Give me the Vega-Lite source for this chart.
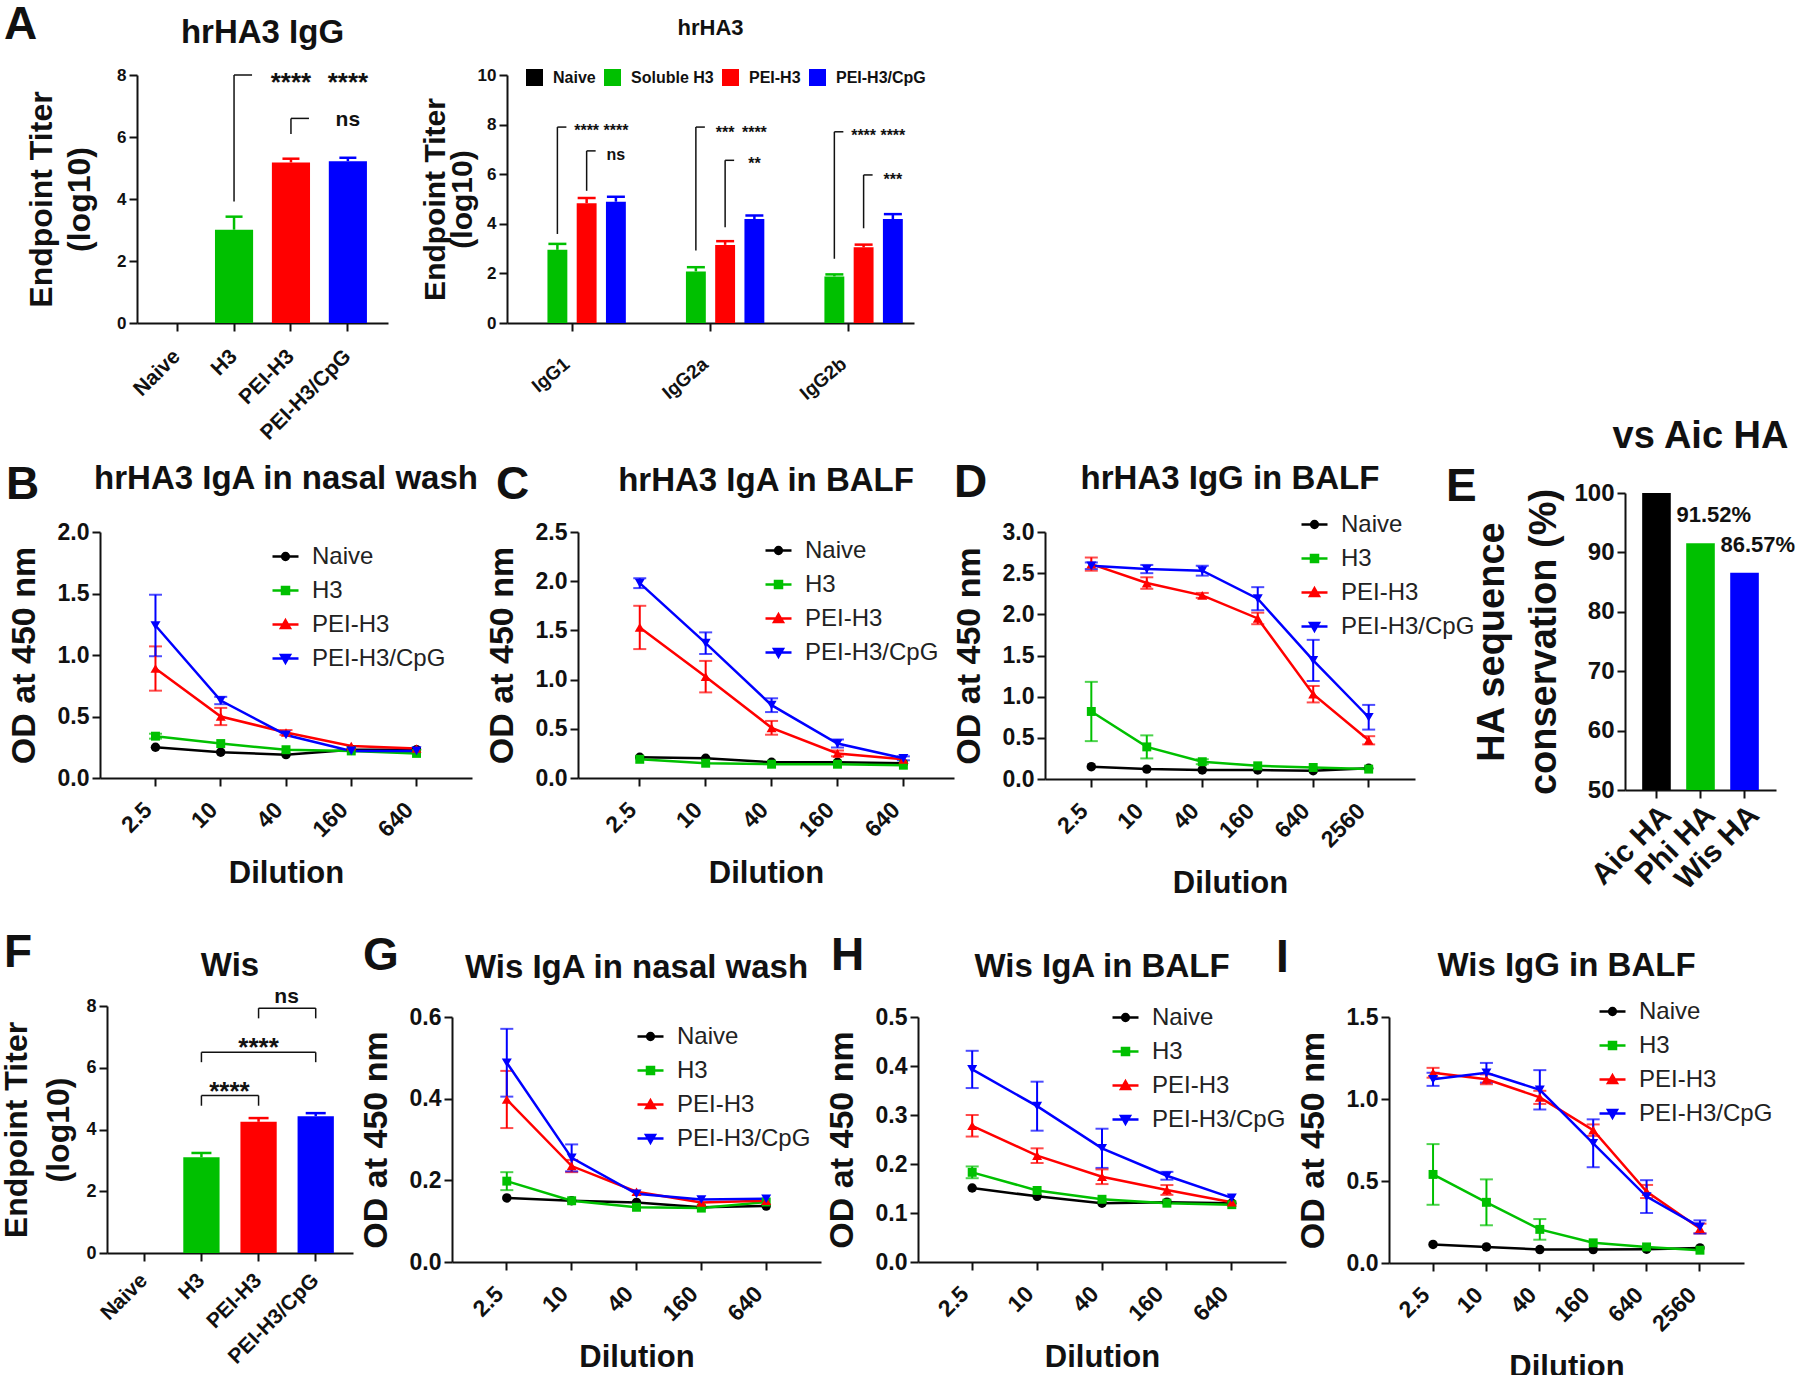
{
"$schema": "https://vega.github.io/schema/vega-lite/v6.json",
"background": "white",
"padding": {"left": 0, "top": 2, "right": 0, "bottom": 0},
"config": {
 "font": "Liberation Sans",
 "view": {"stroke": null},
 "axis": {"domainColor": "#111", "domainWidth": 2, "tickColor": "#111", "tickWidth": 2, "tickSize": 8, "labelColor": "#111", "labelFontWeight": "bold", "labelFont": "Liberation Sans", "titleColor": "#111", "titleFontWeight": "bold", "titleFont": "Liberation Sans", "grid": false, "labelPadding": 3, "labelOverlap": false},
 "title": {"font": "Liberation Sans", "fontWeight": "bold", "color": "#111", "anchor": "middle", "frame": "group", "baseline": "alphabetic", "fontSize": 33},
 "legend": {"labelFont": "Liberation Sans"}
},
"datasets": {
 "A": [{"group": "H3", "titer": 3.01, "top": 3.43}, {"group": "PEI-H3", "titer": 5.18, "top": 5.3}, {"group": "PEI-H3/CpG", "titer": 5.22, "top": 5.33}],
 "A_br": [{"group": "H3", "lo": 3.92, "hi": 8.0}, {"group": "PEI-H3", "lo": 6.1, "hi": 6.6}],
 "A_txt": [{"group": "PEI-H3", "y": 7.48, "t": "****"}, {"group": "PEI-H3/CpG", "y": 7.48, "t": "****"}, {"group": "PEI-H3/CpG", "y": 6.34, "t": "ns"}],
 "A2": [
  {"iso": "IgG1", "group": "Soluble H3", "titer": 2.95, "top": 3.19}, {"iso": "IgG1", "group": "PEI-H3", "titer": 4.83, "top": 5.04}, {"iso": "IgG1", "group": "PEI-H3/CpG", "titer": 4.89, "top": 5.09},
  {"iso": "IgG2a", "group": "Soluble H3", "titer": 2.08, "top": 2.25}, {"iso": "IgG2a", "group": "PEI-H3", "titer": 3.15, "top": 3.3}, {"iso": "IgG2a", "group": "PEI-H3/CpG", "titer": 4.19, "top": 4.33},
  {"iso": "IgG2b", "group": "Soluble H3", "titer": 1.88, "top": 1.96}, {"iso": "IgG2b", "group": "PEI-H3", "titer": 3.05, "top": 3.16}, {"iso": "IgG2b", "group": "PEI-H3/CpG", "titer": 4.19, "top": 4.39}],
 "A2_br": [
  {"iso": "IgG1", "group": "Soluble H3", "lo": 3.59, "hi": 7.9}, {"iso": "IgG1", "group": "PEI-H3", "lo": 5.33, "hi": 6.94},
  {"iso": "IgG2a", "group": "Soluble H3", "lo": 2.92, "hi": 7.9}, {"iso": "IgG2a", "group": "PEI-H3", "lo": 3.86, "hi": 6.56},
  {"iso": "IgG2b", "group": "Soluble H3", "lo": 2.59, "hi": 7.71}, {"iso": "IgG2b", "group": "PEI-H3", "lo": 3.82, "hi": 5.97}],
 "A2_txt": [
  {"iso": "IgG1", "group": "PEI-H3", "y": 7.54, "t": "****"}, {"iso": "IgG1", "group": "PEI-H3/CpG", "y": 7.54, "t": "****"}, {"iso": "IgG1", "group": "PEI-H3/CpG", "y": 6.57, "t": "ns"},
  {"iso": "IgG2a", "group": "PEI-H3", "y": 7.47, "t": "***"}, {"iso": "IgG2a", "group": "PEI-H3/CpG", "y": 7.47, "t": "****"}, {"iso": "IgG2a", "group": "PEI-H3/CpG", "y": 6.2, "t": "**"},
  {"iso": "IgG2b", "group": "PEI-H3", "y": 7.35, "t": "****"}, {"iso": "IgG2b", "group": "PEI-H3/CpG", "y": 7.35, "t": "****"}, {"iso": "IgG2b", "group": "PEI-H3/CpG", "y": 5.57, "t": "***"}],
 "E": [{"ha": "Aic HA", "pct": 100}, {"ha": "Phi HA", "pct": 91.52, "label": "91.52%"}, {"ha": "Wis HA", "pct": 86.57, "label": "86.57%"}],
 "F": [{"group": "H3", "titer": 3.1, "top": 3.24}, {"group": "PEI-H3", "titer": 4.25, "top": 4.37}, {"group": "PEI-H3/CpG", "titer": 4.43, "top": 4.53}],
 "F_h": [{"g1": "PEI-H3", "g2": "PEI-H3/CpG", "y": 7.93}, {"g1": "H3", "g2": "PEI-H3/CpG", "y": 6.5}, {"g1": "H3", "g2": "PEI-H3", "y": 5.1}],
 "F_v": [{"group": "PEI-H3", "lo": 7.6, "hi": 7.93}, {"group": "PEI-H3/CpG", "lo": 7.6, "hi": 7.93}, {"group": "H3", "lo": 6.18, "hi": 6.5}, {"group": "PEI-H3/CpG", "lo": 6.18, "hi": 6.5}, {"group": "H3", "lo": 4.77, "hi": 5.1}, {"group": "PEI-H3", "lo": 4.77, "hi": 5.1}],
 "F_txt": [{"group": "PEI-H3", "y": 8.1, "t": "ns", "pos": "between"}, {"group": "PEI-H3", "y": 6.38, "t": "****", "pos": "on"}, {"group": "H3", "y": 4.95, "t": "****", "pos": "between"}],
 "B": [
  {"group": "Naive", "dil": "2.5", "od": 0.25}, {"group": "Naive", "dil": "10", "od": 0.21}, {"group": "Naive", "dil": "40", "od": 0.19}, {"group": "Naive", "dil": "160", "od": 0.23}, {"group": "Naive", "dil": "640", "od": 0.23},
  {"group": "H3", "dil": "2.5", "od": 0.34, "err": 0.02}, {"group": "H3", "dil": "10", "od": 0.28}, {"group": "H3", "dil": "40", "od": 0.23}, {"group": "H3", "dil": "160", "od": 0.22}, {"group": "H3", "dil": "640", "od": 0.2},
  {"group": "PEI-H3", "dil": "2.5", "od": 0.89, "err": 0.18}, {"group": "PEI-H3", "dil": "10", "od": 0.5, "err": 0.07}, {"group": "PEI-H3", "dil": "40", "od": 0.37, "err": 0.02}, {"group": "PEI-H3", "dil": "160", "od": 0.26}, {"group": "PEI-H3", "dil": "640", "od": 0.24},
  {"group": "PEI-H3/CpG", "dil": "2.5", "od": 1.24, "err": 0.25}, {"group": "PEI-H3/CpG", "dil": "10", "od": 0.63, "err": 0.03}, {"group": "PEI-H3/CpG", "dil": "40", "od": 0.35}, {"group": "PEI-H3/CpG", "dil": "160", "od": 0.22}, {"group": "PEI-H3/CpG", "dil": "640", "od": 0.22}],
 "C": [
  {"group": "Naive", "dil": "2.5", "od": 0.21}, {"group": "Naive", "dil": "10", "od": 0.2}, {"group": "Naive", "dil": "40", "od": 0.16}, {"group": "Naive", "dil": "160", "od": 0.16}, {"group": "Naive", "dil": "640", "od": 0.15},
  {"group": "H3", "dil": "2.5", "od": 0.19}, {"group": "H3", "dil": "10", "od": 0.15}, {"group": "H3", "dil": "40", "od": 0.14}, {"group": "H3", "dil": "160", "od": 0.14}, {"group": "H3", "dil": "640", "od": 0.13},
  {"group": "PEI-H3", "dil": "2.5", "od": 1.53, "err": 0.22}, {"group": "PEI-H3", "dil": "10", "od": 1.03, "err": 0.16}, {"group": "PEI-H3", "dil": "40", "od": 0.51, "err": 0.07}, {"group": "PEI-H3", "dil": "160", "od": 0.25, "err": 0.03}, {"group": "PEI-H3", "dil": "640", "od": 0.19},
  {"group": "PEI-H3/CpG", "dil": "2.5", "od": 1.98, "err": 0.05}, {"group": "PEI-H3/CpG", "dil": "10", "od": 1.37, "err": 0.11}, {"group": "PEI-H3/CpG", "dil": "40", "od": 0.74, "err": 0.07}, {"group": "PEI-H3/CpG", "dil": "160", "od": 0.35, "err": 0.04}, {"group": "PEI-H3/CpG", "dil": "640", "od": 0.2, "err": 0.02}],
 "D": [
  {"group": "Naive", "dil": "2.5", "od": 0.15}, {"group": "Naive", "dil": "10", "od": 0.12}, {"group": "Naive", "dil": "40", "od": 0.11}, {"group": "Naive", "dil": "160", "od": 0.11}, {"group": "Naive", "dil": "640", "od": 0.1}, {"group": "Naive", "dil": "2560", "od": 0.13},
  {"group": "H3", "dil": "2.5", "od": 0.82, "err": 0.36}, {"group": "H3", "dil": "10", "od": 0.39, "err": 0.14}, {"group": "H3", "dil": "40", "od": 0.21, "err": 0.03}, {"group": "H3", "dil": "160", "od": 0.16}, {"group": "H3", "dil": "640", "od": 0.14}, {"group": "H3", "dil": "2560", "od": 0.12},
  {"group": "PEI-H3", "dil": "2.5", "od": 2.61, "err": 0.08}, {"group": "PEI-H3", "dil": "10", "od": 2.38, "err": 0.07}, {"group": "PEI-H3", "dil": "40", "od": 2.23, "err": 0.03}, {"group": "PEI-H3", "dil": "160", "od": 1.95, "err": 0.07}, {"group": "PEI-H3", "dil": "640", "od": 1.03, "err": 0.1}, {"group": "PEI-H3", "dil": "2560", "od": 0.47, "err": 0.05},
  {"group": "PEI-H3/CpG", "dil": "2.5", "od": 2.59, "err": 0.04}, {"group": "PEI-H3/CpG", "dil": "10", "od": 2.55, "err": 0.05}, {"group": "PEI-H3/CpG", "dil": "40", "od": 2.53, "err": 0.06}, {"group": "PEI-H3/CpG", "dil": "160", "od": 2.19, "err": 0.14}, {"group": "PEI-H3/CpG", "dil": "640", "od": 1.44, "err": 0.25}, {"group": "PEI-H3/CpG", "dil": "2560", "od": 0.75, "err": 0.15}],
 "G": [
  {"group": "Naive", "dil": "2.5", "od": 0.157}, {"group": "Naive", "dil": "10", "od": 0.15}, {"group": "Naive", "dil": "40", "od": 0.146}, {"group": "Naive", "dil": "160", "od": 0.134}, {"group": "Naive", "dil": "640", "od": 0.137},
  {"group": "H3", "dil": "2.5", "od": 0.198, "err": 0.022}, {"group": "H3", "dil": "10", "od": 0.15}, {"group": "H3", "dil": "40", "od": 0.134}, {"group": "H3", "dil": "160", "od": 0.132}, {"group": "H3", "dil": "640", "od": 0.147},
  {"group": "PEI-H3", "dil": "2.5", "od": 0.398, "err": 0.07}, {"group": "PEI-H3", "dil": "10", "od": 0.235, "err": 0.015}, {"group": "PEI-H3", "dil": "40", "od": 0.172}, {"group": "PEI-H3", "dil": "160", "od": 0.146}, {"group": "PEI-H3", "dil": "640", "od": 0.15},
  {"group": "PEI-H3/CpG", "dil": "2.5", "od": 0.488, "err": 0.083}, {"group": "PEI-H3/CpG", "dil": "10", "od": 0.255, "err": 0.033}, {"group": "PEI-H3/CpG", "dil": "40", "od": 0.167}, {"group": "PEI-H3/CpG", "dil": "160", "od": 0.153}, {"group": "PEI-H3/CpG", "dil": "640", "od": 0.155}],
 "H": [
  {"group": "Naive", "dil": "2.5", "od": 0.151}, {"group": "Naive", "dil": "10", "od": 0.134}, {"group": "Naive", "dil": "40", "od": 0.12}, {"group": "Naive", "dil": "160", "od": 0.122}, {"group": "Naive", "dil": "640", "od": 0.12},
  {"group": "H3", "dil": "2.5", "od": 0.183, "err": 0.012}, {"group": "H3", "dil": "10", "od": 0.146}, {"group": "H3", "dil": "40", "od": 0.128}, {"group": "H3", "dil": "160", "od": 0.12}, {"group": "H3", "dil": "640", "od": 0.117},
  {"group": "PEI-H3", "dil": "2.5", "od": 0.278, "err": 0.022}, {"group": "PEI-H3", "dil": "10", "od": 0.217, "err": 0.015}, {"group": "PEI-H3", "dil": "40", "od": 0.174, "err": 0.015}, {"group": "PEI-H3", "dil": "160", "od": 0.147, "err": 0.01}, {"group": "PEI-H3", "dil": "640", "od": 0.122},
  {"group": "PEI-H3/CpG", "dil": "2.5", "od": 0.393, "err": 0.038}, {"group": "PEI-H3/CpG", "dil": "10", "od": 0.318, "err": 0.05}, {"group": "PEI-H3/CpG", "dil": "40", "od": 0.232, "err": 0.04}, {"group": "PEI-H3/CpG", "dil": "160", "od": 0.176, "err": 0.008}, {"group": "PEI-H3/CpG", "dil": "640", "od": 0.131}],
 "I": [
  {"group": "Naive", "dil": "2.5", "od": 0.113}, {"group": "Naive", "dil": "10", "od": 0.098}, {"group": "Naive", "dil": "40", "od": 0.082}, {"group": "Naive", "dil": "160", "od": 0.082}, {"group": "Naive", "dil": "640", "od": 0.084}, {"group": "Naive", "dil": "2560", "od": 0.092},
  {"group": "H3", "dil": "2.5", "od": 0.54, "err": 0.185}, {"group": "H3", "dil": "10", "od": 0.37, "err": 0.14}, {"group": "H3", "dil": "40", "od": 0.205, "err": 0.063}, {"group": "H3", "dil": "160", "od": 0.123}, {"group": "H3", "dil": "640", "od": 0.098}, {"group": "H3", "dil": "2560", "od": 0.078},
  {"group": "PEI-H3", "dil": "2.5", "od": 1.16, "err": 0.03}, {"group": "PEI-H3", "dil": "10", "od": 1.12, "err": 0.03}, {"group": "PEI-H3", "dil": "40", "od": 1.01, "err": 0.04}, {"group": "PEI-H3", "dil": "160", "od": 0.81, "err": 0.035}, {"group": "PEI-H3", "dil": "640", "od": 0.436, "err": 0.04}, {"group": "PEI-H3", "dil": "2560", "od": 0.21, "err": 0.03},
  {"group": "PEI-H3/CpG", "dil": "2.5", "od": 1.12, "err": 0.04}, {"group": "PEI-H3/CpG", "dil": "10", "od": 1.16, "err": 0.06}, {"group": "PEI-H3/CpG", "dil": "40", "od": 1.056, "err": 0.12}, {"group": "PEI-H3/CpG", "dil": "160", "od": 0.73, "err": 0.146}, {"group": "PEI-H3/CpG", "dil": "640", "od": 0.405, "err": 0.1}, {"group": "PEI-H3/CpG", "dil": "2560", "od": 0.22, "err": 0.04}]
},
"bounds": "full",
"spacing": -30,
"resolve": {"scale": {"color": "independent"}, "legend": {"color": "independent"}},
"vconcat": [
 {"bounds": "flush", "align": "none", "spacing": 0,
  "resolve": {"scale": {"color": "independent"}, "legend": {"color": "independent"}},
  "hconcat": [
  {"width": 133, "height": 248, "title": {"text": "A", "anchor": "start", "fontSize": 46, "offset": 26, "dx": 0}, "data": {"values": [{}]}, "mark": {"type": "point", "opacity": 0}},
  {"width": 251, "height": 248,
   "title": {"text": "hrHA3 IgG", "fontSize": 33, "offset": 16},
   "encoding": {"x": {"field": "group", "type": "nominal", "scale": {"domain": ["Naive", "H3", "PEI-H3", "PEI-H3/CpG"], "paddingInner": 0.33, "paddingOuter": 0.37}, "axis": {"labelAngle": -45, "labelAlign": "right", "labelBaseline": "middle", "labelFontSize": 21, "labelPadding": 22, "title": null}}},
   "layer": [
    {"data": {"name": "A"}, "mark": {"type": "bar"}, "encoding": {"y": {"field": "titer", "type": "quantitative", "scale": {"domain": [0, 8]}, "axis": {"values": [0, 2, 4, 6, 8], "labelFontSize": 17, "title": ["Endpoint Titer", "(log10)"], "titleFontSize": 32, "titleLineHeight": 38, "titlePadding": 20}}, "color": {"field": "group", "type": "nominal", "scale": {"domain": ["Naive", "H3", "PEI-H3", "PEI-H3/CpG"], "range": ["#000000", "#00c000", "#ff0000", "#0000ff"]}, "legend": null}}},
    {"data": {"name": "A"}, "mark": {"type": "rule", "strokeWidth": 2.5}, "encoding": {"y": {"field": "titer", "type": "quantitative"}, "y2": {"field": "top"}, "color": {"field": "group", "type": "nominal", "legend": null}}},
    {"data": {"name": "A"}, "mark": {"type": "tick", "thickness": 2.5, "size": 17, "opacity": 1}, "encoding": {"y": {"field": "top", "type": "quantitative"}, "color": {"field": "group", "type": "nominal", "legend": null}}},
    {"data": {"name": "A_br"}, "mark": {"type": "rule", "strokeWidth": 1.5, "color": "#111"}, "encoding": {"y": {"field": "lo", "type": "quantitative"}, "y2": {"field": "hi"}}},
    {"data": {"name": "A_br"}, "mark": {"type": "point", "shape": "M0,0H1", "size": 1296, "filled": false, "strokeWidth": 1.5, "color": "#111", "opacity": 1}, "encoding": {"y": {"field": "hi", "type": "quantitative"}}},
    {"data": {"name": "A_txt"}, "transform": [{"filter": "datum.t !== 'ns'"}], "mark": {"type": "text", "fontSize": 26, "fontWeight": "bold", "baseline": "alphabetic", "color": "#111"}, "encoding": {"y": {"field": "y", "type": "quantitative"}, "text": {"field": "t"}}},
    {"data": {"name": "A_txt"}, "transform": [{"filter": "datum.t === 'ns'"}], "mark": {"type": "text", "fontSize": 21, "fontWeight": "bold", "baseline": "alphabetic", "color": "#111"}, "encoding": {"y": {"field": "y", "type": "quantitative"}, "text": {"field": "t"}}}
   ]},
  {"width": 119, "height": 248, "data": {"values": [{}]}, "mark": {"type": "point", "opacity": 0}},
  {"width": 407, "height": 248,
   "title": {"text": "hrHA3", "fontSize": 22, "offset": 26},
   "encoding": {
    "x": {"field": "iso", "type": "nominal", "scale": {"domain": ["IgG1", "IgG2a", "IgG2b"], "paddingInner": 0.155, "paddingOuter": 0.047}, "axis": {"labelAngle": -40, "labelAlign": "right", "labelBaseline": "middle", "labelFontSize": 19, "labelPadding": 30, "labelOffset": -5, "title": null}},
    "xOffset": {"field": "group", "type": "nominal", "scale": {"domain": ["Naive", "Soluble H3", "PEI-H3", "PEI-H3/CpG"], "paddingInner": 0.32, "paddingOuter": 0.16}}
   },
   "layer": [
    {"data": {"name": "A2"}, "mark": {"type": "bar"}, "encoding": {
      "y": {"field": "titer", "type": "quantitative", "scale": {"domain": [0, 10]}, "axis": {"values": [0, 2, 4, 6, 8, 10], "labelFontSize": 17, "title": ["Endpoint Titer", "(log10)"], "titleFontSize": 30, "titleLineHeight": 27, "titlePadding": 0}},
      "color": {"field": "group", "type": "nominal", "scale": {"domain": ["Naive", "Soluble H3", "PEI-H3", "PEI-H3/CpG"], "range": ["#000000", "#00c000", "#ff0000", "#0000ff"]},
        "legend": {"orient": "none", "legendX": 19, "legendY": -6, "direction": "horizontal", "title": null, "symbolType": "square", "symbolSize": 289, "symbolStrokeWidth": 0, "symbolOpacity": 1, "labelFontSize": 16, "labelFontWeight": "bold", "labelColor": "#111", "labelOffset": 10, "columnPadding": 8, "padding": 0}}}},
    {"data": {"name": "A2"}, "mark": {"type": "rule", "strokeWidth": 2.5}, "encoding": {"y": {"field": "titer", "type": "quantitative"}, "y2": {"field": "top"}, "color": {"field": "group", "type": "nominal"}}},
    {"data": {"name": "A2"}, "mark": {"type": "tick", "thickness": 2.5, "size": 18, "opacity": 1}, "encoding": {"y": {"field": "top", "type": "quantitative"}, "color": {"field": "group", "type": "nominal"}}},
    {"data": {"name": "A2_br"}, "mark": {"type": "rule", "strokeWidth": 1.5, "color": "#111"}, "encoding": {"y": {"field": "lo", "type": "quantitative"}, "y2": {"field": "hi"}}},
    {"data": {"name": "A2_br"}, "mark": {"type": "point", "shape": "M0,0H1", "size": 324, "filled": false, "strokeWidth": 1.5, "color": "#111", "opacity": 1}, "encoding": {"y": {"field": "hi", "type": "quantitative"}}},
    {"data": {"name": "A2_txt"}, "mark": {"type": "text", "fontSize": 16, "fontWeight": "bold", "baseline": "alphabetic", "color": "#111"}, "encoding": {"y": {"field": "y", "type": "quantitative"}, "text": {"field": "t"}}}
   ]}
 ]},
 {"width": 10, "height": 1, "data": {"values": [{}]}, "mark": {"type": "point", "opacity": 0}},
 {"bounds": "flush", "align": "none", "spacing": 0,
  "resolve": {"scale": {"color": "independent"}, "legend": {"color": "independent"}},
  "hconcat": [
  {"width": 96, "height": 246, "title": {"text": "B", "anchor": "start", "fontSize": 46, "offset": 23, "dx": 2}, "data": {"values": [{}]}, "mark": {"type": "point", "opacity": 0}},
  {"width": 372, "height": 246,
   "title": {"text": "hrHA3 IgA in nasal wash", "fontSize": 33, "offset": 25},
   "data": {"name": "B"},
   "encoding": {
    "x": {"field": "dil", "type": "ordinal", "scale": {"domain": ["2.5", "10", "40", "160", "640"], "padding": 0.7}, "axis": {"labelAngle": -45, "labelAlign": "right", "labelBaseline": "middle", "labelFontSize": 23, "labelPadding": 20, "labelOffset": -7, "titleFontSize": 31, "titlePadding": 17, "title": "Dilution"}},
    "y": {"field": "od", "type": "quantitative", "scale": {"domain": [0, 2]}, "axis": {"values": [0, 0.5, 1, 1.5, 2], "format": ".1f", "labelFontSize": 23, "titleFontSize": 34, "titlePadding": 16, "title": "OD at 450 nm"}},
    "color": {"field": "group", "type": "nominal", "scale": {"domain": ["Naive", "H3", "PEI-H3", "PEI-H3/CpG"], "range": ["#000000", "#00c000", "#ff0000", "#0000ff"]},
      "legend": {"orient": "none", "legendX": 171, "legendY": 10, "title": null, "padding": 0, "labelFontSize": 24, "labelFontWeight": "normal", "labelColor": "#222", "labelOffset": 12, "rowPadding": 7, "symbolSize": 676, "symbolStrokeWidth": 2.5, "symbolOpacity": 1,
        "encode": {"symbols": {"update": {"shape": {"signal": "datum.value==='Naive'?'M-1,0H1M0.26,0A0.26,0.26,0,1,1,-0.26,0A0.26,0.26,0,1,1,0.26,0Z':datum.value==='H3'?'M-1,0H1M-0.27,-0.27H0.27V0.27H-0.27Z':datum.value==='PEI-H3'?'M-1,0H1M0,-0.32L0.34,0.26H-0.34Z':'M-1,0H1M0,0.32L0.34,-0.26H-0.34Z'"}, "fill": {"signal": "datum.value==='Naive'?'#000000':datum.value==='H3'?'#00c000':datum.value==='PEI-H3'?'#ff0000':'#0000ff'"}, "stroke": {"signal": "datum.value==='Naive'?'#000000':datum.value==='H3'?'#00c000':datum.value==='PEI-H3'?'#ff0000':'#0000ff'"}, "strokeWidth": {"value": 2.5}, "opacity": {"value": 1}}}}}}
   },
   "layer": [
    {"transform": [{"filter": "datum.err > 0"}], "mark": {"type": "errorbar", "thickness": 2, "ticks": {"size": 13}}, "encoding": {"yError": {"field": "err"}}},
    {"mark": {"type": "line", "strokeWidth": 2.5}},
    {"transform": [{"filter": "datum.group === 'Naive'"}], "mark": {"type": "point", "shape": "circle", "filled": true, "size": 90, "opacity": 1}},
    {"transform": [{"filter": "datum.group === 'H3'"}], "mark": {"type": "point", "shape": "square", "filled": true, "size": 80, "opacity": 1}},
    {"transform": [{"filter": "datum.group === 'PEI-H3'"}], "mark": {"type": "point", "shape": "triangle-up", "filled": true, "size": 100, "opacity": 1}},
    {"transform": [{"filter": "datum.group === 'PEI-H3/CpG'"}], "mark": {"type": "point", "shape": "triangle-down", "filled": true, "size": 100, "opacity": 1}}
   ]},
  {"width": 106, "height": 246, "title": {"text": "C", "anchor": "start", "fontSize": 46, "offset": 23, "dx": 24}, "data": {"values": [{}]}, "mark": {"type": "point", "opacity": 0}},
  {"width": 376, "height": 246,
   "title": {"text": "hrHA3 IgA in BALF", "fontSize": 33, "offset": 23},
   "data": {"name": "C"},
   "encoding": {
    "x": {"field": "dil", "type": "ordinal", "scale": {"domain": ["2.5", "10", "40", "160", "640"], "padding": 0.705, "align": 0.56}, "axis": {"labelAngle": -45, "labelAlign": "right", "labelBaseline": "middle", "labelFontSize": 23, "labelPadding": 20, "labelOffset": -7, "titleFontSize": 31, "titlePadding": 17, "title": "Dilution"}},
    "y": {"field": "od", "type": "quantitative", "scale": {"domain": [0, 2.5]}, "axis": {"values": [0, 0.5, 1, 1.5, 2, 2.5], "format": ".1f", "labelFontSize": 23, "titleFontSize": 34, "titlePadding": 16, "title": "OD at 450 nm"}},
    "color": {"field": "group", "type": "nominal", "scale": {"domain": ["Naive", "H3", "PEI-H3", "PEI-H3/CpG"], "range": ["#000000", "#00c000", "#ff0000", "#0000ff"]},
      "legend": {"orient": "none", "legendX": 186, "legendY": 4, "title": null, "padding": 0, "labelFontSize": 24, "labelFontWeight": "normal", "labelColor": "#222", "labelOffset": 12, "rowPadding": 7, "symbolSize": 676, "symbolStrokeWidth": 2.5, "symbolOpacity": 1,
        "encode": {"symbols": {"update": {"shape": {"signal": "datum.value==='Naive'?'M-1,0H1M0.26,0A0.26,0.26,0,1,1,-0.26,0A0.26,0.26,0,1,1,0.26,0Z':datum.value==='H3'?'M-1,0H1M-0.27,-0.27H0.27V0.27H-0.27Z':datum.value==='PEI-H3'?'M-1,0H1M0,-0.32L0.34,0.26H-0.34Z':'M-1,0H1M0,0.32L0.34,-0.26H-0.34Z'"}, "fill": {"signal": "datum.value==='Naive'?'#000000':datum.value==='H3'?'#00c000':datum.value==='PEI-H3'?'#ff0000':'#0000ff'"}, "stroke": {"signal": "datum.value==='Naive'?'#000000':datum.value==='H3'?'#00c000':datum.value==='PEI-H3'?'#ff0000':'#0000ff'"}, "strokeWidth": {"value": 2.5}, "opacity": {"value": 1}}}}}}
   },
   "layer": [
    {"transform": [{"filter": "datum.err > 0"}], "mark": {"type": "errorbar", "thickness": 2, "ticks": {"size": 13}}, "encoding": {"yError": {"field": "err"}}},
    {"mark": {"type": "line", "strokeWidth": 2.5}},
    {"transform": [{"filter": "datum.group === 'Naive'"}], "mark": {"type": "point", "shape": "circle", "filled": true, "size": 90, "opacity": 1}},
    {"transform": [{"filter": "datum.group === 'H3'"}], "mark": {"type": "point", "shape": "square", "filled": true, "size": 80, "opacity": 1}},
    {"transform": [{"filter": "datum.group === 'PEI-H3'"}], "mark": {"type": "point", "shape": "triangle-up", "filled": true, "size": 100, "opacity": 1}},
    {"transform": [{"filter": "datum.group === 'PEI-H3/CpG'"}], "mark": {"type": "point", "shape": "triangle-down", "filled": true, "size": 100, "opacity": 1}}
   ]},
  {"width": 91, "height": 246, "title": {"text": "D", "anchor": "start", "fontSize": 46, "offset": 25, "dx": 0}, "data": {"values": [{}]}, "mark": {"type": "point", "opacity": 0}},
  {"width": 370, "height": 247,
   "title": {"text": "hrHA3 IgG in BALF", "fontSize": 33, "offset": 14},
   "data": {"name": "D"},
   "encoding": {
    "x": {"field": "dil", "type": "ordinal", "scale": {"domain": ["2.5", "10", "40", "160", "640", "2560"], "padding": 0.67}, "axis": {"labelAngle": -45, "labelAlign": "right", "labelBaseline": "middle", "labelFontSize": 23, "labelPadding": 20, "labelOffset": -7, "titleFontSize": 31, "titlePadding": 17, "title": "Dilution"}},
    "y": {"field": "od", "type": "quantitative", "scale": {"domain": [0, 3]}, "axis": {"values": [0, 0.5, 1, 1.5, 2, 2.5, 3], "format": ".1f", "labelFontSize": 23, "titleFontSize": 34, "titlePadding": 16, "title": "OD at 450 nm"}},
    "color": {"field": "group", "type": "nominal", "scale": {"domain": ["Naive", "H3", "PEI-H3", "PEI-H3/CpG"], "range": ["#000000", "#00c000", "#ff0000", "#0000ff"]},
      "legend": {"orient": "none", "legendX": 255, "legendY": -22, "title": null, "padding": 0, "labelFontSize": 24, "labelFontWeight": "normal", "labelColor": "#222", "labelOffset": 12, "rowPadding": 7, "symbolSize": 676, "symbolStrokeWidth": 2.5, "symbolOpacity": 1,
        "encode": {"symbols": {"update": {"shape": {"signal": "datum.value==='Naive'?'M-1,0H1M0.26,0A0.26,0.26,0,1,1,-0.26,0A0.26,0.26,0,1,1,0.26,0Z':datum.value==='H3'?'M-1,0H1M-0.27,-0.27H0.27V0.27H-0.27Z':datum.value==='PEI-H3'?'M-1,0H1M0,-0.32L0.34,0.26H-0.34Z':'M-1,0H1M0,0.32L0.34,-0.26H-0.34Z'"}, "fill": {"signal": "datum.value==='Naive'?'#000000':datum.value==='H3'?'#00c000':datum.value==='PEI-H3'?'#ff0000':'#0000ff'"}, "stroke": {"signal": "datum.value==='Naive'?'#000000':datum.value==='H3'?'#00c000':datum.value==='PEI-H3'?'#ff0000':'#0000ff'"}, "strokeWidth": {"value": 2.5}, "opacity": {"value": 1}}}}}}
   },
   "layer": [
    {"transform": [{"filter": "datum.err > 0"}], "mark": {"type": "errorbar", "thickness": 2, "ticks": {"size": 13}}, "encoding": {"yError": {"field": "err"}}},
    {"mark": {"type": "line", "strokeWidth": 2.5}},
    {"transform": [{"filter": "datum.group === 'Naive'"}], "mark": {"type": "point", "shape": "circle", "filled": true, "size": 90, "opacity": 1}},
    {"transform": [{"filter": "datum.group === 'H3'"}], "mark": {"type": "point", "shape": "square", "filled": true, "size": 80, "opacity": 1}},
    {"transform": [{"filter": "datum.group === 'PEI-H3'"}], "mark": {"type": "point", "shape": "triangle-up", "filled": true, "size": 100, "opacity": 1}},
    {"transform": [{"filter": "datum.group === 'PEI-H3/CpG'"}], "mark": {"type": "point", "shape": "triangle-down", "filled": true, "size": 100, "opacity": 1}}
   ]},
  {"width": 210, "height": 246, "title": {"text": "E", "anchor": "start", "fontSize": 46, "offset": 21, "dx": 31}, "data": {"values": [{}]}, "mark": {"type": "point", "opacity": 0}},
  {"width": 151, "height": 258,
   "title": {"text": "vs Aic HA", "fontSize": 38, "offset": 25},
   "data": {"name": "E"},
   "encoding": {"x": {"field": "ha", "type": "nominal", "scale": {"domain": ["Aic HA", "Phi HA", "Wis HA"], "paddingInner": 0.35, "paddingOuter": 0.39}, "axis": {"labelAngle": -45, "labelAlign": "right", "labelBaseline": "middle", "labelFontSize": 30, "labelPadding": 12, "labelOffset": 10, "title": null}}},
   "layer": [
    {"mark": {"type": "bar"}, "encoding": {"y": {"field": "pct", "type": "quantitative", "scale": {"domain": [50, 100], "zero": false, "range": [258, -39]}, "axis": {"values": [50, 60, 70, 80, 90, 100], "labelFontSize": 24, "title": ["HA sequence", "conservation (%)"], "titleFontSize": 38, "titleLineHeight": 52, "titlePadding": 10}}, "y2": {"datum": 50}, "color": {"field": "ha", "type": "nominal", "scale": {"domain": ["Aic HA", "Phi HA", "Wis HA"], "range": ["#000000", "#00c000", "#0000ff"]}, "legend": null}}},
    {"transform": [{"filter": "isValid(datum.label)"}], "mark": {"type": "text", "align": "left", "baseline": "alphabetic", "dx": -24, "dy": -21, "fontSize": 22, "fontWeight": "bold", "color": "#111"}, "encoding": {"y": {"field": "pct", "type": "quantitative"}, "text": {"field": "label"}}}
   ]}
 ]},
 {"width": 10, "height": 61, "data": {"values": [{}]}, "mark": {"type": "point", "opacity": 0}},
 {"bounds": "flush", "align": "none", "spacing": 0,
  "resolve": {"scale": {"color": "independent"}, "legend": {"color": "independent"}},
  "hconcat": [
  {"width": 103, "height": 245, "title": {"text": "F", "anchor": "start", "fontSize": 46, "offset": 40, "dx": 0}, "data": {"values": [{}]}, "mark": {"type": "point", "opacity": 0}},
  {"width": 246, "height": 236,
   "title": {"text": "Wis", "fontSize": 33, "offset": 3},
   "encoding": {"x": {"field": "group", "type": "nominal", "scale": {"domain": ["Naive", "H3", "PEI-H3", "PEI-H3/CpG"], "paddingInner": 0.365, "paddingOuter": 0.335}, "axis": {"labelAngle": -45, "labelAlign": "right", "labelBaseline": "middle", "labelFontSize": 21, "labelPadding": 16, "title": null}}},
   "layer": [
    {"data": {"name": "F"}, "mark": {"type": "bar"}, "encoding": {"y": {"field": "titer", "type": "quantitative", "scale": {"domain": [0, 8], "range": [236, -11]}, "axis": {"values": [0, 2, 4, 6, 8], "labelFontSize": 18, "title": ["Endpoint Titer", "(log10)"], "titleFontSize": 32, "titleLineHeight": 42, "titlePadding": 10}}, "color": {"field": "group", "type": "nominal", "scale": {"domain": ["Naive", "H3", "PEI-H3", "PEI-H3/CpG"], "range": ["#000000", "#00c000", "#ff0000", "#0000ff"]}, "legend": null}}},
    {"data": {"name": "F"}, "mark": {"type": "rule", "strokeWidth": 2.5}, "encoding": {"y": {"field": "titer", "type": "quantitative"}, "y2": {"field": "top"}, "color": {"field": "group", "type": "nominal", "legend": null}}},
    {"data": {"name": "F"}, "mark": {"type": "tick", "thickness": 2.5, "size": 20, "opacity": 1}, "encoding": {"y": {"field": "top", "type": "quantitative"}, "color": {"field": "group", "type": "nominal", "legend": null}}},
    {"data": {"name": "F_h"}, "mark": {"type": "rule", "strokeWidth": 1.5, "color": "#111"}, "encoding": {"x": {"field": "g1", "type": "nominal"}, "x2": {"field": "g2"}, "y": {"field": "y", "type": "quantitative"}}},
    {"data": {"name": "F_v"}, "mark": {"type": "rule", "strokeWidth": 1.5, "color": "#111"}, "encoding": {"y": {"field": "lo", "type": "quantitative"}, "y2": {"field": "hi"}}},
    {"data": {"name": "F_txt"}, "transform": [{"filter": "datum.t === 'ns'"}], "mark": {"type": "text", "fontSize": 21, "fontWeight": "bold", "baseline": "alphabetic", "dx": 28, "color": "#111"}, "encoding": {"y": {"field": "y", "type": "quantitative"}, "text": {"field": "t"}}},
    {"data": {"name": "F_txt"}, "transform": [{"filter": "datum.t !== 'ns' && datum.pos === 'between'"}], "mark": {"type": "text", "fontSize": 26, "fontWeight": "bold", "baseline": "alphabetic", "dx": 28, "color": "#111"}, "encoding": {"y": {"field": "y", "type": "quantitative"}, "text": {"field": "t"}}},
    {"data": {"name": "F_txt"}, "transform": [{"filter": "datum.pos === 'on'"}], "mark": {"type": "text", "fontSize": 26, "fontWeight": "bold", "baseline": "alphabetic", "color": "#111"}, "encoding": {"y": {"field": "y", "type": "quantitative"}, "text": {"field": "t"}}}
   ]},
  {"width": 99, "height": 245, "title": {"text": "G", "anchor": "start", "fontSize": 46, "offset": 37, "dx": 10}, "data": {"values": [{}]}, "mark": {"type": "point", "opacity": 0}},
  {"width": 369, "height": 245,
   "title": {"text": "Wis IgA in nasal wash", "fontSize": 33, "offset": 21},
   "data": {"name": "G"},
   "encoding": {
    "x": {"field": "dil", "type": "ordinal", "scale": {"domain": ["2.5", "10", "40", "160", "640"], "padding": 0.69}, "axis": {"labelAngle": -45, "labelAlign": "right", "labelBaseline": "middle", "labelFontSize": 23, "labelPadding": 20, "labelOffset": -7, "titleFontSize": 31, "titlePadding": 17, "title": "Dilution"}},
    "y": {"field": "od", "type": "quantitative", "scale": {"domain": [0, 0.6]}, "axis": {"values": [0, 0.2, 0.4, 0.6], "format": ".1f", "labelFontSize": 23, "titleFontSize": 34, "titlePadding": 16, "title": "OD at 450 nm"}},
    "color": {"field": "group", "type": "nominal", "scale": {"domain": ["Naive", "H3", "PEI-H3", "PEI-H3/CpG"], "range": ["#000000", "#00c000", "#ff0000", "#0000ff"]},
      "legend": {"orient": "none", "legendX": 184, "legendY": 5, "title": null, "padding": 0, "labelFontSize": 24, "labelFontWeight": "normal", "labelColor": "#222", "labelOffset": 12, "rowPadding": 7, "symbolSize": 676, "symbolStrokeWidth": 2.5, "symbolOpacity": 1,
        "encode": {"symbols": {"update": {"shape": {"signal": "datum.value==='Naive'?'M-1,0H1M0.26,0A0.26,0.26,0,1,1,-0.26,0A0.26,0.26,0,1,1,0.26,0Z':datum.value==='H3'?'M-1,0H1M-0.27,-0.27H0.27V0.27H-0.27Z':datum.value==='PEI-H3'?'M-1,0H1M0,-0.32L0.34,0.26H-0.34Z':'M-1,0H1M0,0.32L0.34,-0.26H-0.34Z'"}, "fill": {"signal": "datum.value==='Naive'?'#000000':datum.value==='H3'?'#00c000':datum.value==='PEI-H3'?'#ff0000':'#0000ff'"}, "stroke": {"signal": "datum.value==='Naive'?'#000000':datum.value==='H3'?'#00c000':datum.value==='PEI-H3'?'#ff0000':'#0000ff'"}, "strokeWidth": {"value": 2.5}, "opacity": {"value": 1}}}}}}
   },
   "layer": [
    {"transform": [{"filter": "datum.err > 0"}], "mark": {"type": "errorbar", "thickness": 2, "ticks": {"size": 13}}, "encoding": {"yError": {"field": "err"}}},
    {"mark": {"type": "line", "strokeWidth": 2.5}},
    {"transform": [{"filter": "datum.group === 'Naive'"}], "mark": {"type": "point", "shape": "circle", "filled": true, "size": 90, "opacity": 1}},
    {"transform": [{"filter": "datum.group === 'H3'"}], "mark": {"type": "point", "shape": "square", "filled": true, "size": 80, "opacity": 1}},
    {"transform": [{"filter": "datum.group === 'PEI-H3'"}], "mark": {"type": "point", "shape": "triangle-up", "filled": true, "size": 100, "opacity": 1}},
    {"transform": [{"filter": "datum.group === 'PEI-H3/CpG'"}], "mark": {"type": "point", "shape": "triangle-down", "filled": true, "size": 100, "opacity": 1}}
   ]},
  {"width": 97, "height": 245, "title": {"text": "H", "anchor": "start", "fontSize": 46, "offset": 37, "dx": 10}, "data": {"values": [{}]}, "mark": {"type": "point", "opacity": 0}},
  {"width": 368, "height": 245,
   "title": {"text": "Wis IgA in BALF", "fontSize": 33, "offset": 19},
   "data": {"name": "H"},
   "encoding": {
    "x": {"field": "dil", "type": "ordinal", "scale": {"domain": ["2.5", "10", "40", "160", "640"], "padding": 0.67}, "axis": {"labelAngle": -45, "labelAlign": "right", "labelBaseline": "middle", "labelFontSize": 23, "labelPadding": 20, "labelOffset": -7, "titleFontSize": 31, "titlePadding": 17, "title": "Dilution"}},
    "y": {"field": "od", "type": "quantitative", "scale": {"domain": [0, 0.5]}, "axis": {"values": [0, 0.1, 0.2, 0.3, 0.4, 0.5], "format": ".1f", "labelFontSize": 23, "titleFontSize": 34, "titlePadding": 16, "title": "OD at 450 nm"}},
    "color": {"field": "group", "type": "nominal", "scale": {"domain": ["Naive", "H3", "PEI-H3", "PEI-H3/CpG"], "range": ["#000000", "#00c000", "#ff0000", "#0000ff"]},
      "legend": {"orient": "none", "legendX": 193, "legendY": -14, "title": null, "padding": 0, "labelFontSize": 24, "labelFontWeight": "normal", "labelColor": "#222", "labelOffset": 12, "rowPadding": 7, "symbolSize": 676, "symbolStrokeWidth": 2.5, "symbolOpacity": 1,
        "encode": {"symbols": {"update": {"shape": {"signal": "datum.value==='Naive'?'M-1,0H1M0.26,0A0.26,0.26,0,1,1,-0.26,0A0.26,0.26,0,1,1,0.26,0Z':datum.value==='H3'?'M-1,0H1M-0.27,-0.27H0.27V0.27H-0.27Z':datum.value==='PEI-H3'?'M-1,0H1M0,-0.32L0.34,0.26H-0.34Z':'M-1,0H1M0,0.32L0.34,-0.26H-0.34Z'"}, "fill": {"signal": "datum.value==='Naive'?'#000000':datum.value==='H3'?'#00c000':datum.value==='PEI-H3'?'#ff0000':'#0000ff'"}, "stroke": {"signal": "datum.value==='Naive'?'#000000':datum.value==='H3'?'#00c000':datum.value==='PEI-H3'?'#ff0000':'#0000ff'"}, "strokeWidth": {"value": 2.5}, "opacity": {"value": 1}}}}}}
   },
   "layer": [
    {"transform": [{"filter": "datum.err > 0"}], "mark": {"type": "errorbar", "thickness": 2, "ticks": {"size": 13}}, "encoding": {"yError": {"field": "err"}}},
    {"mark": {"type": "line", "strokeWidth": 2.5}},
    {"transform": [{"filter": "datum.group === 'Naive'"}], "mark": {"type": "point", "shape": "circle", "filled": true, "size": 90, "opacity": 1}},
    {"transform": [{"filter": "datum.group === 'H3'"}], "mark": {"type": "point", "shape": "square", "filled": true, "size": 80, "opacity": 1}},
    {"transform": [{"filter": "datum.group === 'PEI-H3'"}], "mark": {"type": "point", "shape": "triangle-up", "filled": true, "size": 100, "opacity": 1}},
    {"transform": [{"filter": "datum.group === 'PEI-H3/CpG'"}], "mark": {"type": "point", "shape": "triangle-down", "filled": true, "size": 100, "opacity": 1}}
   ]},
  {"width": 103, "height": 245, "title": {"text": "I", "anchor": "start", "fontSize": 46, "offset": 35, "dx": -10}, "data": {"values": [{}]}, "mark": {"type": "point", "opacity": 0}},
  {"width": 355, "height": 246,
   "title": {"text": "Wis IgG in BALF", "fontSize": 33, "offset": 14},
   "data": {"name": "I"},
   "encoding": {
    "x": {"field": "dil", "type": "ordinal", "scale": {"domain": ["2.5", "10", "40", "160", "640", "2560"], "padding": 0.65}, "axis": {"labelAngle": -45, "labelAlign": "right", "labelBaseline": "middle", "labelFontSize": 23, "labelPadding": 20, "labelOffset": -7, "titleFontSize": 31, "titlePadding": 17, "title": "Dilution"}},
    "y": {"field": "od", "type": "quantitative", "scale": {"domain": [0, 1.5]}, "axis": {"values": [0, 0.5, 1, 1.5], "format": ".1f", "labelFontSize": 23, "titleFontSize": 34, "titlePadding": 16, "title": "OD at 450 nm"}},
    "color": {"field": "group", "type": "nominal", "scale": {"domain": ["Naive", "H3", "PEI-H3", "PEI-H3/CpG"], "range": ["#000000", "#00c000", "#ff0000", "#0000ff"]},
      "legend": {"orient": "none", "legendX": 209, "legendY": -20, "title": null, "padding": 0, "labelFontSize": 24, "labelFontWeight": "normal", "labelColor": "#222", "labelOffset": 12, "rowPadding": 7, "symbolSize": 676, "symbolStrokeWidth": 2.5, "symbolOpacity": 1,
        "encode": {"symbols": {"update": {"shape": {"signal": "datum.value==='Naive'?'M-1,0H1M0.26,0A0.26,0.26,0,1,1,-0.26,0A0.26,0.26,0,1,1,0.26,0Z':datum.value==='H3'?'M-1,0H1M-0.27,-0.27H0.27V0.27H-0.27Z':datum.value==='PEI-H3'?'M-1,0H1M0,-0.32L0.34,0.26H-0.34Z':'M-1,0H1M0,0.32L0.34,-0.26H-0.34Z'"}, "fill": {"signal": "datum.value==='Naive'?'#000000':datum.value==='H3'?'#00c000':datum.value==='PEI-H3'?'#ff0000':'#0000ff'"}, "stroke": {"signal": "datum.value==='Naive'?'#000000':datum.value==='H3'?'#00c000':datum.value==='PEI-H3'?'#ff0000':'#0000ff'"}, "strokeWidth": {"value": 2.5}, "opacity": {"value": 1}}}}}}
   },
   "layer": [
    {"transform": [{"filter": "datum.err > 0"}], "mark": {"type": "errorbar", "thickness": 2, "ticks": {"size": 13}}, "encoding": {"yError": {"field": "err"}}},
    {"mark": {"type": "line", "strokeWidth": 2.5}},
    {"transform": [{"filter": "datum.group === 'Naive'"}], "mark": {"type": "point", "shape": "circle", "filled": true, "size": 90, "opacity": 1}},
    {"transform": [{"filter": "datum.group === 'H3'"}], "mark": {"type": "point", "shape": "square", "filled": true, "size": 80, "opacity": 1}},
    {"transform": [{"filter": "datum.group === 'PEI-H3'"}], "mark": {"type": "point", "shape": "triangle-up", "filled": true, "size": 100, "opacity": 1}},
    {"transform": [{"filter": "datum.group === 'PEI-H3/CpG'"}], "mark": {"type": "point", "shape": "triangle-down", "filled": true, "size": 100, "opacity": 1}}
   ]}
 ]}
]
}
